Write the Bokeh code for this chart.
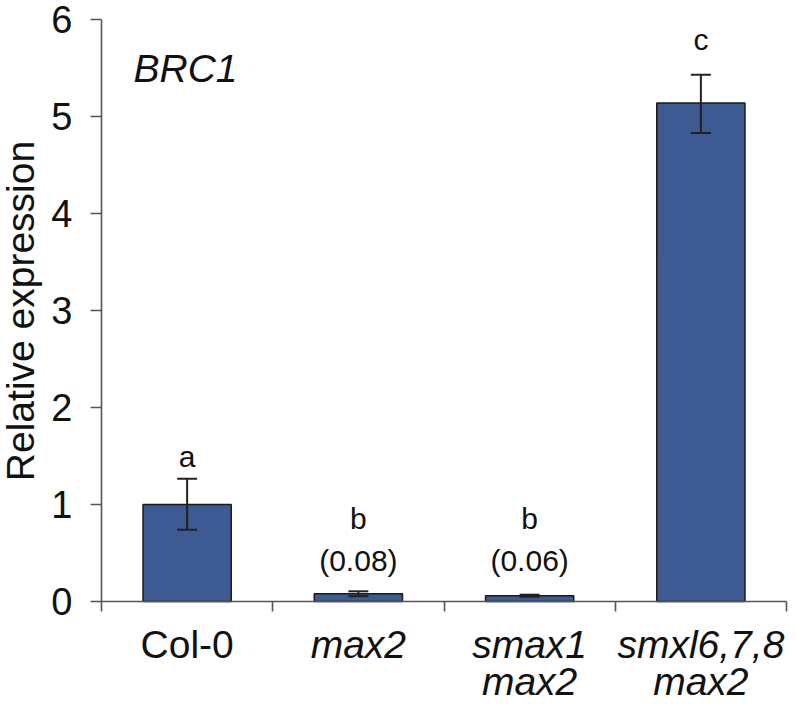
import math
from bokeh.plotting import figure
from bokeh.models import (ColumnDataSource, Range1d, FixedTicker, Whisker, TeeHead)
from bokeh.core.properties import value
from bokeh.embed import file_html
from bokeh.resources import INLINE

# ---- data ----
categories = ["Col-0", "max2", "smax1\nmax2", "smxl6,7,8\nmax2"]
italic = [False, True, True, True]
expression = [1.00, 0.08, 0.06, 5.14]
err_low = [0.74, 0.055, 0.05, 4.83]
err_high = [1.265, 0.105, 0.07, 5.43]
letters = ["a", "b", "b", "c"]
letter_y = [1.49, 0.858, 0.858, 5.79]
notes = ["", "(0.08)", "(0.06)", ""]
note_y = 0.42
y_ticks = [0, 1, 2, 3, 4, 5, 6]
gene = "BRC1"
y_title = "Relative expression"

FONT = "Liberation Sans"
AXIS_COLOR = "#555555"
BAR_COLOR = "#3D5A93"
TEXT_COLOR = "#111111"

# ---- layout (pixels) ----
W, H = 797, 704
X0, PXX = 101, 171.25      # x pixel of category start, px per category
Y0, PXY = 601, 97          # y pixel of value 0, px per unit

def dx(px):
    return (px - X0) / PXX

def dy(py):
    return (Y0 - py) / PXY

n = len(categories)
x = [i + 0.5 for i in range(n)]
src = ColumnDataSource(dict(x=x, top=expression, lo=err_low, hi=err_high))

p = figure(width=W, height=H,
           x_range=Range1d(dx(0), dx(W)), y_range=Range1d(dy(H), dy(0)),
           output_backend="svg", toolbar_location=None,
           min_border_left=0, min_border_top=0, min_border_right=0, min_border_bottom=0)
p.outline_line_color = None
p.xgrid.visible = False
p.ygrid.visible = False
p.background_fill_color = "white"

p.vbar(x="x", top="top", bottom=0, width=0.515, source=src,
       fill_color=BAR_COLOR, line_color="#1a1a1a", line_width=1.5)

w = Whisker(base="x", upper="hi", lower="lo", source=src, dimension="height",
            line_color="#222222", line_width=2, level="overlay",
            upper_head=TeeHead(size=20, line_color="#222222", line_width=2),
            lower_head=TeeHead(size=20, line_color="#222222", line_width=2))
p.add_layout(w)

# y axis
ya = p.yaxis[0]
ya.fixed_location = 0
ya.bounds = (0, 6)
ya.ticker = FixedTicker(ticks=y_ticks)
ya.minor_tick_line_color = None
ya.major_tick_in = 0
ya.major_tick_out = 11
ya.axis_line_color = AXIS_COLOR
ya.major_tick_line_color = AXIS_COLOR
ya.axis_line_width = 1.6
ya.major_tick_line_width = 1.6
ya.major_label_text_font = FONT
ya.major_label_text_font_size = "38px"
ya.major_label_text_color = TEXT_COLOR
ya.major_label_standoff = 18

# x axis: ticks at category boundaries
xa = p.xaxis[0]
xa.fixed_location = 0
xa.bounds = (0, n)
xa.ticker = FixedTicker(ticks=list(range(n + 1)))
xa.minor_tick_line_color = None
xa.major_tick_in = 0
xa.major_tick_out = 10
xa.axis_line_color = AXIS_COLOR
xa.major_tick_line_color = AXIS_COLOR
xa.axis_line_width = 1.6
xa.major_tick_line_width = 1.6
xa.major_label_text_font_size = "0px"
xa.major_label_overrides = {t: "" for t in range(n + 1)}

# category labels (each line separately)
line_centers_px = [643.5, 681.3]
for style in ("normal", "italic"):
    lx, ly, lt = [], [], []
    for xi, cat, it in zip(x, categories, italic):
        if (style == "italic") != it:
            continue
        for k, line in enumerate(cat.split("\n")):
            lx.append(xi)
            ly.append(dy(line_centers_px[k]))
            lt.append(line)
    if lx:
        p.text(x=lx, y=ly, text=lt, text_font=value(FONT), text_font_size="39px",
               text_font_style=style, text_align="center", text_baseline="middle",
               text_color=TEXT_COLOR)

# significance letters and values
p.text(x=x, y=letter_y, text=letters, text_font=value(FONT), text_font_size="30px",
       text_align="center", text_baseline="middle", text_color=TEXT_COLOR)
nx = [xi for xi, t in zip(x, notes) if t]
nt = [t for t in notes if t]
p.text(x=nx, y=[note_y] * len(nx), text=nt, text_font=value(FONT), text_font_size="30px",
       text_align="center", text_baseline="middle", text_color=TEXT_COLOR)

# gene name
p.text(x=[dx(133)], y=[dy(67.5)], text=[gene], text_font=value(FONT),
       text_font_size="39px", text_font_style="italic",
       text_align="left", text_baseline="middle", text_color=TEXT_COLOR)

# y-axis title
p.text(x=[dx(20)], y=[dy(310.5)], text=[y_title], text_font=value(FONT),
       text_font_size="39px", angle=math.pi / 2,
       text_align="center", text_baseline="middle", text_color=TEXT_COLOR)

open("out.html", "w").write(file_html(p, INLINE))
